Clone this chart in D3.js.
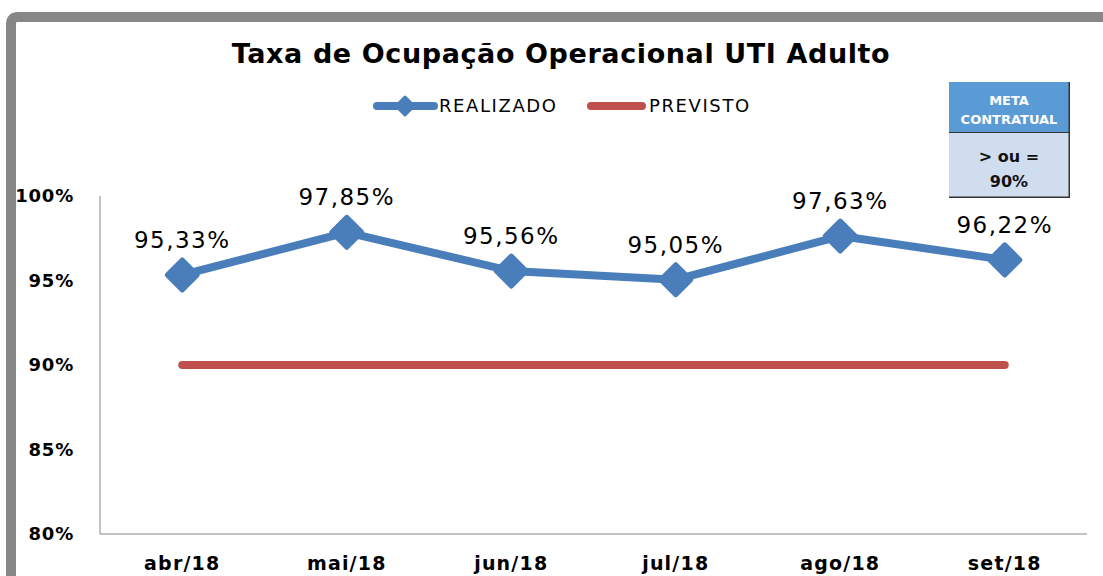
<!DOCTYPE html>
<html>
<head>
<meta charset="utf-8">
<script src="https://cdn.jsdelivr.net/npm/d3@7"></script>
<style>
  body { margin: 0; background: #fff; }
  svg text { font-family: "DejaVu Sans", Verdana, sans-serif; }
</style>
</head>
<body>
<div id="chart"></div>
<script>
const months = ["abr/18", "mai/18", "jun/18", "jul/18", "ago/18", "set/18"];
const realizado = [95.33, 97.85, 95.56, 95.05, 97.63, 96.22];
const previsto = [90, 90, 90, 90, 90, 90];
const yTicks = [80, 85, 90, 95, 100];

const width = 1103, height = 576;
const margin = {top: 196, left: 100, bottom: 42, right: 16};
const plotW = width - margin.left - margin.right;
const plotH = height - margin.top - margin.bottom;

const svg = d3.select("#chart").append("svg")
    .attr("width", width)
    .attr("height", height);

// outer frame (only top and left visible)
svg.append("path")
    .attr("d", "M11,576 L11,24 Q11,17 18,17 L1103,17")
    .attr("fill", "none")
    .attr("stroke", "#878787")
    .attr("stroke-width", 10);

svg.append("text")
    .attr("x", 561).attr("y", 63)
    .attr("text-anchor", "middle")
    .attr("font-size", 27)
    .attr("font-weight", "bold")
    .attr("letter-spacing", 0.6)
    .text("Taxa de Ocupação Operacional UTI Adulto");

const g = svg.append("g")
    .attr("transform", "translate(" + margin.left + "," + margin.top + ")");

const x = d3.scaleBand().domain(months).range([0, plotW]);
const y = d3.scaleLinear().domain([80, 100]).range([plotH, 0]);
const cx = d => x(d) + x.bandwidth() / 2;

// axes
g.append("line").attr("x1", 0).attr("x2", 0).attr("y1", 0).attr("y2", plotH)
    .attr("stroke", "#888").attr("stroke-width", 1);
g.append("line").attr("x1", 0).attr("x2", plotW).attr("y1", plotH).attr("y2", plotH)
    .attr("stroke", "#888").attr("stroke-width", 1);

g.selectAll(".ytick").data(yTicks).enter().append("text")
    .attr("class", "ytick")
    .attr("x", -26)
    .attr("y", d => y(d))
    .attr("dy", "0.36em")
    .attr("text-anchor", "end")
    .attr("font-size", 18)
    .attr("font-weight", "bold")
    .attr("letter-spacing", 0.8)
    .text(d => d + "%");

g.selectAll(".xtick").data(months).enter().append("text")
    .attr("class", "xtick")
    .attr("x", d => cx(d))
    .attr("y", plotH + 36)
    .attr("text-anchor", "middle")
    .attr("font-size", 19)
    .attr("font-weight", "bold")
    .attr("letter-spacing", 1.2)
    .text(d => d);

// previsto line
const line = d3.line()
    .x((d, i) => cx(months[i]))
    .y(d => y(d));

g.append("path")
    .datum(previsto)
    .attr("d", line)
    .attr("fill", "none")
    .attr("stroke", "#C0504D")
    .attr("stroke-width", 8)
    .attr("stroke-linecap", "round");

// realizado line
g.append("path")
    .datum(realizado)
    .attr("d", line)
    .attr("fill", "none")
    .attr("stroke", "#4A7EBB")
    .attr("stroke-width", 8)
    .attr("stroke-linejoin", "round")
    .attr("stroke-linecap", "round");

const diamond = "M0,-15 L15,0 L0,15 L-15,0 Z";

g.selectAll(".marker").data(realizado).enter().append("path")
    .attr("class", "marker")
    .attr("transform", (d, i) => "translate(" + cx(months[i]) + "," + y(d) + ")")
    .attr("d", diamond)
    .attr("fill", "#4A7EBB")
    .attr("stroke", "#4A7EBB")
    .attr("stroke-width", 5)
    .attr("stroke-linejoin", "round");

g.selectAll(".dlabel").data(realizado).enter().append("text")
    .attr("class", "dlabel")
    .attr("x", (d, i) => cx(months[i]))
    .attr("y", d => y(d) - 27)
    .attr("text-anchor", "middle")
    .attr("font-size", 23)
    .attr("letter-spacing", 1.5)
    .text(d => d.toFixed(2).replace(".", ",") + "%");

// legend
const legend = svg.append("g");
legend.append("line").attr("x1", 377).attr("x2", 434).attr("y1", 106).attr("y2", 106)
    .attr("stroke", "#4A7EBB").attr("stroke-width", 8).attr("stroke-linecap", "round");
legend.append("path").attr("transform", "translate(405,106)").attr("d", "M0,-9 L9,0 L0,9 L-9,0 Z")
    .attr("fill", "#4A7EBB").attr("stroke", "#4A7EBB").attr("stroke-width", 3).attr("stroke-linejoin", "round");
legend.append("text").attr("x", 439).attr("y", 112).attr("font-size", 18)
    .attr("letter-spacing", 1.6).text("REALIZADO");
legend.append("line").attr("x1", 591).attr("x2", 642).attr("y1", 106).attr("y2", 106)
    .attr("stroke", "#C0504D").attr("stroke-width", 8).attr("stroke-linecap", "round");
legend.append("text").attr("x", 649).attr("y", 112).attr("font-size", 18)
    .attr("letter-spacing", 1.6).text("PREVISTO");

// meta contratual box
const box = svg.append("g").attr("transform", "translate(949,82)");
box.append("rect").attr("x", 0).attr("y", 0).attr("width", 121).attr("height", 116)
    .attr("fill", "#333");
box.append("rect").attr("x", 0).attr("y", 0).attr("width", 119.5).attr("height", 50)
    .attr("fill", "#5B9BD5");
box.append("rect").attr("x", 0).attr("y", 51).attr("width", 119.5).attr("height", 63.5)
    .attr("fill", "#D0DDEE");
box.append("text").attr("x", 60).attr("y", 23).attr("text-anchor", "middle")
    .attr("font-size", 13).attr("font-weight", "bold").attr("fill", "#fff").text("META");
box.append("text").attr("x", 60).attr("y", 42).attr("text-anchor", "middle")
    .attr("font-size", 13).attr("font-weight", "bold").attr("fill", "#fff").text("CONTRATUAL");
box.append("text").attr("x", 60).attr("y", 80).attr("text-anchor", "middle")
    .attr("font-size", 16).attr("font-weight", "bold").attr("fill", "#111").text("> ou =");
box.append("text").attr("x", 60).attr("y", 105).attr("text-anchor", "middle")
    .attr("font-size", 16).attr("font-weight", "bold").attr("fill", "#111").text("90%");
</script>
</body>
</html>
